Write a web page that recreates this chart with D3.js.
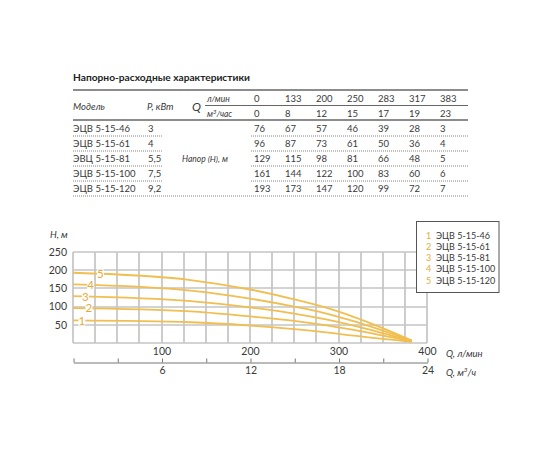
<!DOCTYPE html>
<html><head><meta charset="utf-8">
<script src="https://cdn.jsdelivr.net/npm/d3@7"></script>
<style>
html,body{margin:0;padding:0;background:#fff;}
svg{display:block;font-family:Lato,"Open Sans",sans-serif;}
</style></head>
<body>
<script>
// ---------- data ----------
const title = "Напорно-расходные характеристики";
const flowLmin = [0, 133, 200, 250, 283, 317, 383];
const flowM3h  = [0, 8, 12, 15, 17, 19, 23];
const models   = ["ЭЦВ 5-15-46", "ЭЦВ 5-15-61", "ЭВЦ 5-15-81", "ЭЦВ 5-15-100", "ЭЦВ 5-15-120"];
const legendModels = ["ЭЦВ 5-15-46", "ЭЦВ 5-15-61", "ЭЦВ 5-15-81", "ЭЦВ 5-15-100", "ЭЦВ 5-15-120"];
const powers   = ["3", "4", "5,5", "7,5", "9,2"];
const heads1 = [76, 67, 57, 46, 39, 28, 3];
const heads2 = [96, 87, 73, 61, 50, 36, 4];
const heads3 = [129, 115, 98, 81, 66, 48, 5];
const heads4 = [161, 144, 122, 100, 83, 60, 6];
const heads5 = [193, 173, 147, 120, 99, 72, 7];
const tableHeads = [heads1, heads2, heads3, heads4, heads5];
// curves as drawn in the chart (curve 1 is drawn lower than its table row)
const curve1 = [62, 57, 48, 38, 30, 20, 3];
const curveHeads = [curve1, heads2, heads3, heads4, heads5];
const curveIds = ["1", "2", "3", "4", "5"];
const xTicksLmin = [100, 200, 300, 400];
const xTicksM3h = [0, 3, 6, 9, 12, 15, 18, 21, 24];
const xLabelsM3h = [6, 12, 18, 24];
const yTicks = [50, 100, 150, 200, 250];
const gridQ = d3.range(0, 401, 25);
const gridH = d3.range(0, 251, 50);

// ---------- drawing ----------
const W = 550, H = 450;
const svg = d3.select("body").append("svg").attr("width", W).attr("height", H);
svg.append("rect").attr("width", W).attr("height", H).attr("fill", "#fff");

const txt = "#3a3a3a";
const gold = "#F1BE4F";
const goldText = "#E9A93A";
const gridColor = "#c4c4c4";
const fs = 9.5;

// ---- chart scales ----
const x = d3.scaleLinear().domain([0, 400]).range([73, 427]);
const xm = d3.scaleLinear().domain([0, 24]).range([73, 427]);
const y = d3.scaleLinear().domain([0, 250]).range([343, 252]);

// ---- grid (drawn first) ----
const G = svg.append("g").attr("class", "grid");
G.selectAll("line.v").data(gridQ).enter().append("line").attr("class", "v")
  .attr("x1", q => Math.round(x(q))).attr("x2", q => Math.round(x(q)))
  .attr("y1", y(0)).attr("y2", y(250))
  .attr("stroke", gridColor).attr("stroke-width", 1.7);
G.selectAll("line.h").data(gridH).enter().append("line").attr("class", "h")
  .attr("x1", x(0)).attr("x2", x(400))
  .attr("y1", h => Math.round(y(h))).attr("y2", h => Math.round(y(h)))
  .attr("stroke", gridColor).attr("stroke-width", 1.7);

// ---- table ----
const T = svg.append("g");
const tL = 73, tR = 468;
T.append("text").attr("x", tL).attr("y", 81).text(title)
  .attr("font-weight", "bold").attr("font-size", 10.2).attr("fill", "#222");
T.append("line").attr("x1", tL).attr("x2", tR).attr("y1", 90).attr("y2", 90).attr("stroke", "#666").attr("stroke-width", 1.6);
T.append("line").attr("x1", 205).attr("x2", tR).attr("y1", 105.5).attr("y2", 105.5).attr("stroke", "#666").attr("stroke-width", 1);
T.append("line").attr("x1", tL).attr("x2", tR).attr("y1", 120).attr("y2", 120).attr("stroke", "#666").attr("stroke-width", 1.4);

const colX = d3.scalePoint().domain(d3.range(flowLmin.length)).range([254, 440]);
T.append("text").attr("x", tL).attr("y", 110).text("Модель").attr("font-style", "italic").attr("font-size", fs).attr("fill", txt);
T.append("text").attr("x", 147).attr("y", 110).text("P, кВт").attr("font-style", "italic").attr("font-size", fs).attr("fill", txt);
T.append("text").attr("x", 192).attr("y", 111).text("Q").attr("font-style", "italic").attr("font-size", 12).attr("fill", txt);
T.append("text").attr("x", 207).attr("y", 102).text("л/мин").attr("font-style", "italic").attr("font-size", 8.5).attr("fill", txt);
const m3 = T.append("text").attr("x", 207).attr("y", 117).attr("font-style", "italic").attr("font-size", 8.5).attr("fill", txt);
m3.append("tspan").text("м");
m3.append("tspan").text("3").attr("font-size", 6).attr("dy", -3);
m3.append("tspan").text("/час").attr("dy", 3);

T.selectAll(".hq").data(flowLmin).join("text")
  .attr("x", (d, i) => colX(i)).attr("y", 102).text(d => d)
  .attr("font-size", fs).attr("fill", txt);
T.selectAll(".hm").data(flowM3h).join("text")
  .attr("x", (d, i) => colX(i)).attr("y", 117).text(d => d)
  .attr("font-size", fs).attr("fill", txt);

const rowY = d3.scaleLinear().domain([0, 4]).range([131.5, 191.5]);
models.forEach((m, r) => {
  T.append("text").attr("x", tL).attr("y", rowY(r)).text(m).attr("font-size", fs).attr("fill", txt);
  T.append("text").attr("x", 148).attr("y", rowY(r)).text(powers[r]).attr("font-size", fs).attr("fill", txt);
  tableHeads[r].forEach((v, c) => {
    T.append("text").attr("x", colX(c)).attr("y", rowY(r)).text(v).attr("font-size", fs).attr("fill", txt);
  });
  const ly = rowY(r) + 4.5;
  const dash = (x1, x2) => T.append("line").attr("x1", x1).attr("x2", x2).attr("y1", ly).attr("y2", ly)
      .attr("stroke", "#777").attr("stroke-width", 0.9).attr("stroke-dasharray", "1,1");
  if (r < 4) { dash(tL, 163); dash(251, tR); } else { dash(tL, tR); }
});
T.append("text").attr("x", 182).attr("y", rowY(2)).text("Напор (H), м")
  .attr("font-style", "italic").attr("font-size", 8.5).attr("fill", txt);

// ---- axes ----
const C = svg.append("g");
const yAx = C.append("g").attr("transform", `translate(${x(0) - 2},0)`)
  .call(d3.axisLeft(y).tickValues(yTicks).tickSize(0).tickPadding(4));
yAx.select(".domain").remove();
yAx.selectAll("text").attr("font-size", 10.5).attr("fill", txt).attr("font-family", "Lato,sans-serif");

const xAx = C.append("g").attr("transform", `translate(0,${y(0)})`)
  .call(d3.axisBottom(x).tickValues(xTicksLmin).tickSize(0).tickPadding(5));
xAx.select(".domain").remove();
xAx.selectAll("text").attr("font-size", 10.5).attr("fill", txt).attr("font-family", "Lato,sans-serif");

const xmAx = C.append("g").attr("transform", `translate(0.5,362.5)`)
  .call(d3.axisBottom(xm).tickValues(xTicksM3h).tickSizeInner(-4).tickSizeOuter(0).tickPadding(4)
    .tickFormat(d => xLabelsM3h.includes(d) ? d : ""));
xmAx.select(".domain").attr("stroke", "#777");
xmAx.selectAll("line").attr("stroke", "#777");
xmAx.selectAll("text").attr("font-size", 10.5).attr("fill", txt).attr("font-family", "Lato,sans-serif");

// axis titles
C.append("text").attr("x", 50).attr("y", 238).text("H, м").attr("font-style", "italic").attr("font-size", 9.5).attr("fill", txt);
C.append("text").attr("x", 446).attr("y", 356.5).text("Q, л/мин").attr("font-style", "italic").attr("font-size", 9.5).attr("fill", txt);
const qm = C.append("text").attr("x", 446).attr("y", 375.5).attr("font-style", "italic").attr("font-size", 9.5).attr("fill", txt);
qm.append("tspan").text("Q, м");
qm.append("tspan").text("3").attr("font-size", 6.5).attr("dy", -3.5);
qm.append("tspan").text("/ч").attr("dy", 3.5);

// curves
const line = d3.line().x((d, i) => x(flowLmin[i])).y(d => y(d)).curve(d3.curveMonotoneX);
C.selectAll(".curve").data(curveHeads).join("path")
  .attr("d", d => line(d)).attr("fill", "none")
  .attr("stroke", gold).attr("stroke-width", 1.8);

// curve number labels on the lines
const labelQ = [10, 18, 14, 20, 31];
curveHeads.forEach((h, i) => {
  const q = labelQ[i];
  const hv = h[0] + (h[1] - h[0]) * q / flowLmin[1];
  C.append("rect").attr("x", x(q) - 3.5).attr("y", y(hv) - 5).attr("width", 7).attr("height", 10).attr("fill", "#fff");
  C.append("text").attr("x", x(q)).attr("y", y(hv) + 4).attr("text-anchor", "middle")
    .text(curveIds[i]).attr("font-size", 11.5).attr("fill", goldText);
});

// legend
const L = svg.append("g");
L.append("rect").attr("x", 416.5).attr("y", 221.5).attr("width", 82.5).attr("height", 71)
  .attr("fill", "#fff").attr("stroke", "#555").attr("stroke-width", 1);
const legY = d3.scaleLinear().domain([0, 4]).range([239, 283.5]);
legendModels.forEach((m, i) => {
  L.append("text").attr("x", 426).attr("y", legY(i)).text(curveIds[i]).attr("font-size", 9).attr("fill", goldText);
  L.append("text").attr("x", 436).attr("y", legY(i)).text(m).attr("font-size", 9).attr("fill", txt);
});
</script>
</body></html>
